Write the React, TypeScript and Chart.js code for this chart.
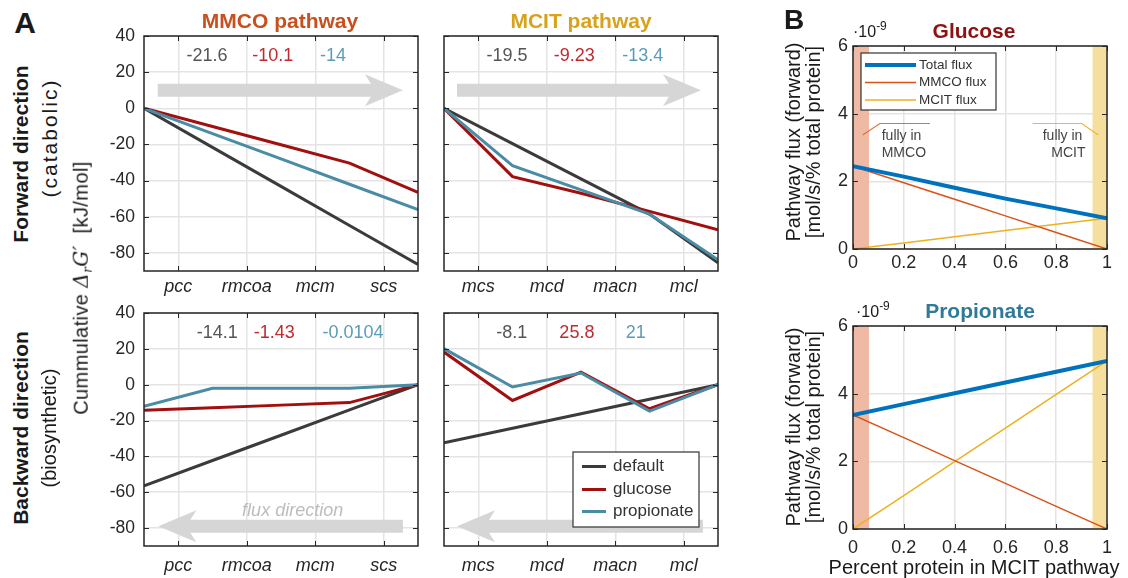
import React, { useEffect, useRef } from 'react';
import { Chart, registerables } from 'chart.js';

Chart.register(...registerables);

const SANS = '"Liberation Sans", Arial, Helvetica, sans-serif';

// ---------------- Panel A data (cumulative ΔrG', kJ/mol) ----------------
const mmcoSteps = ['pcc', 'rmcoa', 'mcm', 'scs'];
const mcitSteps = ['mcs', 'mcd', 'macn', 'mcl'];
const nodeX = [0, 1, 2, 3, 4];
const stepTickX = [0.5, 1.5, 2.5, 3.5];
const dgTicks = [-80, -60, -40, -20, 0, 20, 40];
const seriesNames = ['default', 'glucose', 'propionate'];

const fwdMmcoDefault = [0, -21.6, -43.2, -64.8, -86.4];
const fwdMmcoGlucose = [0, -10.1, -20.2, -30.3, -46.5];
const fwdMmcoPropionate = [0, -14, -28, -42, -56];

const fwdMcitDefault = [0, -19.5, -39, -58.5, -85.5];
const fwdMcitGlucose = [0, -37.8, -47, -57, -67.2];
const fwdMcitPropionate = [0, -31.7, -45.1, -58.5, -83.8];

const bwdMmcoDefault = [-56.4, -42.3, -28.2, -14.1, 0];
const bwdMmcoGlucose = [-14.3, -12.9, -11.4, -10, 0];
const bwdMmcoPropionate = [-12, -2, -2, -2, 0];

const bwdMcitDefault = [-32.4, -24.3, -16.2, -8.1, 0];
const bwdMcitGlucose = [18.2, -8.8, 7, -13.4, 0];
const bwdMcitPropionate = [20.1, -1.3, 6.5, -14.7, 0];

const fwdMmcoLabels = ['-21.6', '-10.1', '-14'];
const fwdMcitLabels = ['-19.5', '-9.23', '-13.4'];
const bwdMmcoLabels = ['-14.1', '-1.43', '-0.0104'];
const bwdMcitLabels = ['-8.1', '25.8', '21'];

// ---------------- Panel B data (flux, ×1e-9 mol/s/% total protein) ----------------
const fracMcit = [0, 0.2, 0.4, 0.6, 0.8, 1];
const fluxNames = ['Total flux', 'MMCO flux', 'MCIT flux'];
const glcTotal = [2.45, 2.14, 1.81, 1.49, 1.2, 0.91];
const glcMmco = [2.45, 1.96, 1.47, 0.98, 0.49, 0];
const glcMcit = [0, 0.18, 0.36, 0.55, 0.73, 0.91];
const proTotal = [3.37, 3.69, 4.01, 4.33, 4.65, 4.97];
const proMmco = [3.37, 2.7, 2.02, 1.35, 0.67, 0];
const proMcit = [0, 0.99, 1.99, 2.98, 3.98, 4.97];

// ---------------- styling ----------------
const lineColors = ['#3b3b3b', '#a10f0f', '#4a8ba6'];
const labelColors = ['#555555', '#c02a2e', '#5b9cb9'];
const fluxColors = ['#0072bd', '#d95319', '#edb120'];
const fluxWidths = [4, 1.5, 1.5];
const GRID = '#e4e4e4';
const AXIS = '#262626';

type Txt = { x: number; y: number; text: string; color: string; font: string; align?: CanvasTextAlign };
type Arrow = { from: number; to: number; y: number; head: number; half: number; shaft: number; color: string };
type Poly = { pts: [number, number][]; color: string; width: number };
type Legend = { dx: number; dy: number; w: number; h: number; font: string; s0: number; s1: number; tx: number; rows: number[] };
type Spec = {
  bands?: { from: number; to: number; color: string }[];
  arrows?: Arrow[];
  texts?: Txt[];
  polys?: Poly[];
  legend?: Legend;
};

function makeDecor(spec: Spec) {
  return {
    id: 'decor',
    beforeDatasetsDraw(chart: any) {
      const { ctx, chartArea: a, scales } = chart;
      const xs = scales.x;
      const ys = scales.y;
      ctx.save();
      (spec.bands || []).forEach((b) => {
        const x0 = xs.getPixelForValue(b.from);
        const x1 = xs.getPixelForValue(b.to);
        ctx.fillStyle = b.color;
        ctx.fillRect(x0, a.top, x1 - x0, a.bottom - a.top);
      });
      (spec.arrows || []).forEach((ar) => {
        const tail = xs.getPixelForValue(ar.from);
        const tip = xs.getPixelForValue(ar.to);
        const y = ys.getPixelForValue(ar.y);
        const dir = Math.sign(tip - tail);
        const base = tip - dir * ar.head;
        const join = base + dir * 6;
        ctx.fillStyle = ar.color;
        ctx.beginPath();
        ctx.moveTo(tail, y - ar.shaft);
        ctx.lineTo(join, y - ar.shaft);
        ctx.lineTo(base, y - ar.half);
        ctx.lineTo(tip, y);
        ctx.lineTo(base, y + ar.half);
        ctx.lineTo(join, y + ar.shaft);
        ctx.lineTo(tail, y + ar.shaft);
        ctx.closePath();
        ctx.fill();
      });
      (spec.polys || []).forEach((p) => {
        ctx.strokeStyle = p.color;
        ctx.lineWidth = p.width;
        ctx.beginPath();
        p.pts.forEach(([vx, vy], i) => {
          const px = xs.getPixelForValue(vx);
          const py = ys.getPixelForValue(vy);
          if (i === 0) ctx.moveTo(px, py);
          else ctx.lineTo(px, py);
        });
        ctx.stroke();
      });
      (spec.texts || []).forEach((t) => {
        ctx.font = t.font;
        ctx.fillStyle = t.color;
        ctx.textAlign = t.align || 'center';
        ctx.textBaseline = 'middle';
        ctx.fillText(t.text, xs.getPixelForValue(t.x), ys.getPixelForValue(t.y));
      });
      ctx.restore();
    },
    afterDatasetsDraw(chart: any) {
      const { ctx, chartArea: a, scales } = chart;
      const xs = scales.x;
      const ys = scales.y;
      ctx.save();
      // inward tick marks
      ctx.strokeStyle = AXIS;
      ctx.lineWidth = 1;
      ctx.beginPath();
      ys.ticks.forEach((t: any) => {
        const py = Math.round(ys.getPixelForValue(t.value)) + 0.5;
        ctx.moveTo(a.left, py);
        ctx.lineTo(a.left + 5, py);
        ctx.moveTo(a.right - 5, py);
        ctx.lineTo(a.right, py);
      });
      xs.ticks.forEach((t: any) => {
        const px = Math.round(xs.getPixelForValue(t.value)) + 0.5;
        ctx.moveTo(px, a.bottom);
        ctx.lineTo(px, a.bottom - 5);
        ctx.moveTo(px, a.top);
        ctx.lineTo(px, a.top + 5);
      });
      ctx.stroke();
      // box
      ctx.lineWidth = 1.5;
      ctx.strokeRect(a.left, a.top, a.right - a.left, a.bottom - a.top);
      // legend
      const lg = spec.legend;
      if (lg) {
        const bx = a.left + lg.dx;
        const by = a.top + lg.dy;
        ctx.fillStyle = '#ffffff';
        ctx.fillRect(bx, by, lg.w, lg.h);
        ctx.strokeStyle = '#333333';
        ctx.lineWidth = 1.2;
        ctx.strokeRect(bx, by, lg.w, lg.h);
        chart.data.datasets.forEach((ds: any, i: number) => {
          const ry = by + lg.rows[i];
          ctx.strokeStyle = ds.borderColor;
          ctx.lineWidth = ds.borderWidth;
          ctx.beginPath();
          ctx.moveTo(bx + lg.s0, ry);
          ctx.lineTo(bx + lg.s1, ry);
          ctx.stroke();
          ctx.fillStyle = '#333333';
          ctx.font = lg.font;
          ctx.textAlign = 'left';
          ctx.textBaseline = 'middle';
          ctx.fillText(ds.label, bx + lg.tx, ry);
        });
      }
      ctx.restore();
    },
  };
}

type BoxT = { left: number; top: number; width: number; height: number };

function ChartBox({ box, make }: { box: BoxT; make: () => any }) {
  const ref = useRef<HTMLCanvasElement>(null);
  useEffect(() => {
    const chart = new Chart(ref.current as HTMLCanvasElement, make());
    return () => chart.destroy();
  }, []);
  return (
    <canvas
      ref={ref}
      width={box.width}
      height={box.height}
      style={{ position: 'absolute', left: box.left, top: box.top, width: box.width, height: box.height }}
    />
  );
}

const fixX = (h: number) => (s: any) => {
  s.height = h;
  s.paddingLeft = 0;
  s.paddingRight = 0;
  s.paddingTop = 0;
  s.paddingBottom = 0;
};
const fixY = (w: number) => (s: any) => {
  s.width = w;
  s.paddingLeft = 0;
  s.paddingRight = 0;
  s.paddingTop = 0;
  s.paddingBottom = 0;
};

function panelA(opts: {
  steps: string[];
  series: number[][];
  labels: string[];
  labelX: number[];
  showY: boolean;
  yW: number;
  xH: number;
  xPad: number;
  arrowFrom: number;
  arrowTo: number;
  arrowY: number;
  fluxText?: boolean;
  legend?: boolean;
}) {
  const texts: Txt[] = opts.labels.map((t, k) => ({
    x: opts.labelX[k],
    y: 29,
    text: t,
    color: labelColors[k],
    font: `18px ${SANS}`,
  }));
  if (opts.fluxText) {
    texts.push({ x: 2.17, y: -70.6, text: 'flux direction', color: '#bdbdbd', font: `italic 18px ${SANS}` });
  }
  const spec: Spec = {
    arrows: [
      { from: opts.arrowFrom, to: opts.arrowTo, y: opts.arrowY, head: 38, half: 16, shaft: 6.5, color: '#d6d6d6' },
    ],
    texts,
    legend: opts.legend
      ? { dx: 129, dy: 139, w: 126, h: 75, font: `17px ${SANS}`, s0: 9, s1: 33, tx: 40, rows: [14.5, 37.5, 59.5] }
      : undefined,
  };
  return {
    type: 'line',
    data: {
      datasets: opts.series.map((s, k) => ({
        label: seriesNames[k],
        data: nodeX.map((x, i) => ({ x, y: s[i] })),
        borderColor: lineColors[k],
        backgroundColor: lineColors[k],
        borderWidth: 3,
        pointRadius: 0,
        tension: 0,
        fill: false,
        order: 3 - k,
      })),
    },
    options: {
      animation: false,
      responsive: false,
      devicePixelRatio: 1,
      layout: { padding: { top: 10, right: 12, left: 0, bottom: 0 } },
      plugins: { legend: { display: false }, tooltip: { enabled: false } },
      scales: {
        x: {
          type: 'linear',
          min: 0,
          max: 4,
          afterBuildTicks: (s: any) => {
            s.ticks = stepTickX.map((v) => ({ value: v }));
          },
          afterFit: fixX(opts.xH),
          ticks: {
            autoSkip: false,
            maxRotation: 0,
            padding: opts.xPad,
            color: AXIS,
            font: { family: SANS, size: 18, style: 'italic' },
            callback: (_v: any, i: number) => opts.steps[i],
          },
          grid: { color: GRID, lineWidth: 1.5, drawTicks: false },
          border: { display: false },
        },
        y: {
          type: 'linear',
          min: -90,
          max: 40,
          afterBuildTicks: (s: any) => {
            s.ticks = dgTicks.map((v) => ({ value: v }));
          },
          afterFit: fixY(opts.yW),
          ticks: {
            display: opts.showY,
            padding: 9,
            color: AXIS,
            font: { family: SANS, size: 17.5 },
          },
          grid: { color: GRID, lineWidth: 1.5, drawTicks: false },
          border: { display: false },
        },
      },
    },
    plugins: [makeDecor(spec)],
  };
}

function panelB(opts: { series: number[][]; xH: number; xPad: number; notes?: boolean }) {
  const spec: Spec = {
    bands: [
      { from: 0, to: 0.063, color: '#f0b9a3' },
      { from: 0.943, to: 1, color: '#f6de9f' },
    ],
  };
  if (opts.notes) {
    spec.polys = [
      { pts: [[0.038, 3.37], [0.106, 3.71], [0.303, 3.71]], color: '#e0703f', width: 1.2 },
      { pts: [[0.707, 3.71], [0.9, 3.71], [0.966, 3.37]], color: '#efb835', width: 1.2 },
    ];
    const f = `14px ${SANS}`;
    spec.texts = [
      { x: 0.113, y: 3.33, text: 'fully in', color: '#444', font: f, align: 'left' },
      { x: 0.113, y: 2.83, text: 'MMCO', color: '#444', font: f, align: 'left' },
      { x: 0.825, y: 3.33, text: 'fully in', color: '#444', font: f, align: 'center' },
      { x: 0.848, y: 2.83, text: 'MCIT', color: '#444', font: f, align: 'center' },
    ];
    spec.legend = { dx: 8, dy: 7, w: 135, h: 57, font: `13.5px ${SANS}`, s0: 4, s1: 55, tx: 58, rows: [12, 29.5, 47] };
  }
  return {
    type: 'line',
    data: {
      datasets: opts.series.map((s, k) => ({
        label: fluxNames[k],
        data: fracMcit.map((x, i) => ({ x, y: s[i] })),
        borderColor: fluxColors[k],
        backgroundColor: fluxColors[k],
        borderWidth: fluxWidths[k],
        pointRadius: 0,
        tension: 0,
        fill: false,
        order: k + 1,
      })),
    },
    options: {
      animation: false,
      responsive: false,
      devicePixelRatio: 1,
      layout: { padding: { top: 10, right: 12, left: 0, bottom: 0 } },
      plugins: { legend: { display: false }, tooltip: { enabled: false } },
      scales: {
        x: {
          type: 'linear',
          min: 0,
          max: 1,
          afterFit: fixX(opts.xH),
          ticks: {
            stepSize: 0.2,
            padding: opts.xPad,
            color: AXIS,
            font: { family: SANS, size: 18 },
            maxRotation: 0,
            callback: (v: any) => String(Math.round(Number(v) * 10) / 10),
          },
          grid: { color: GRID, lineWidth: 1.5, drawTicks: false },
          border: { display: false },
        },
        y: {
          type: 'linear',
          min: 0,
          max: 6,
          afterFit: fixY(60),
          ticks: { stepSize: 2, padding: 5, color: AXIS, font: { family: SANS, size: 18 } },
          grid: { color: GRID, lineWidth: 1.5, drawTicks: false },
          border: { display: false },
        },
      },
    },
    plugins: [makeDecor(spec)],
  };
}

const Rot = ({ cx, cy, style, children }: any) => (
  <div
    style={{
      position: 'absolute',
      left: cx,
      top: cy,
      transform: 'translate(-50%, -50%) rotate(-90deg)',
      whiteSpace: 'nowrap',
      lineHeight: 1,
      ...style,
    }}
  >
    {children}
  </div>
);

const Ctr = ({ cx, cy, style, children }: any) => (
  <div
    style={{
      position: 'absolute',
      left: cx,
      top: cy,
      transform: 'translate(-50%, -50%)',
      whiteSpace: 'nowrap',
      lineHeight: 1,
      ...style,
    }}
  >
    {children}
  </div>
);

export default function App() {
  return (
    <div
      style={{
        position: 'absolute',
        left: 0,
        top: 0,
        width: 1128,
        height: 578,
        background: '#ffffff',
        fontFamily: SANS,
        color: '#1a1a1a',
        overflow: 'hidden',
      }}
    >
      <ChartBox
        box={{ left: 80, top: 26, width: 350, height: 280 }}
        make={() =>
          panelA({
            steps: mmcoSteps,
            series: [fwdMmcoDefault, fwdMmcoGlucose, fwdMmcoPropionate],
            labels: fwdMmcoLabels,
            labelX: [0.92, 1.88, 2.76],
            showY: true,
            yW: 64,
            xH: 35,
            xPad: 5,
            arrowFrom: 0.2,
            arrowTo: 3.78,
            arrowY: 10,
          })
        }
      />
      <ChartBox
        box={{ left: 434, top: 26, width: 296, height: 280 }}
        make={() =>
          panelA({
            steps: mcitSteps,
            series: [fwdMcitDefault, fwdMcitGlucose, fwdMcitPropionate],
            labels: fwdMcitLabels,
            labelX: [0.92, 1.9, 2.9],
            showY: false,
            yW: 10,
            xH: 35,
            xPad: 5,
            arrowFrom: 0.19,
            arrowTo: 3.75,
            arrowY: 10,
          })
        }
      />
      <ChartBox
        box={{ left: 80, top: 303, width: 350, height: 275 }}
        make={() =>
          panelA({
            steps: mmcoSteps,
            series: [bwdMmcoDefault, bwdMmcoGlucose, bwdMmcoPropionate],
            labels: bwdMmcoLabels,
            labelX: [1.07, 1.9, 3.05],
            showY: true,
            yW: 64,
            xH: 32,
            xPad: 9,
            arrowFrom: 3.78,
            arrowTo: 0.21,
            arrowY: -79,
            fluxText: true,
          })
        }
      />
      <ChartBox
        box={{ left: 434, top: 303, width: 296, height: 275 }}
        make={() =>
          panelA({
            steps: mcitSteps,
            series: [bwdMcitDefault, bwdMcitGlucose, bwdMcitPropionate],
            labels: bwdMcitLabels,
            labelX: [0.99, 1.94, 2.8],
            showY: false,
            yW: 10,
            xH: 32,
            xPad: 9,
            arrowFrom: 3.78,
            arrowTo: 0.19,
            arrowY: -79,
            legend: true,
          })
        }
      />
      <ChartBox
        box={{ left: 793, top: 36, width: 326, height: 250 }}
        make={() => panelB({ series: [glcTotal, glcMmco, glcMcit], xH: 37, xPad: 3, notes: true })}
      />
      <ChartBox
        box={{ left: 793, top: 316, width: 326, height: 245 }}
        make={() => panelB({ series: [proTotal, proMmco, proMcit], xH: 32, xPad: 8 })}
      />

      {/* Panel A labels */}
      <Ctr cx={25} cy={22.5} style={{ fontSize: 30, fontWeight: 700 }}>A</Ctr>
      <Ctr cx={280} cy={20} style={{ fontSize: 21, fontWeight: 700, color: '#c8501e' }}>MMCO pathway</Ctr>
      <Ctr cx={581} cy={20} style={{ fontSize: 21, fontWeight: 700, color: '#d9a21b' }}>MCIT pathway</Ctr>
      <Rot cx={20} cy={154} style={{ fontSize: 21, fontWeight: 700 }}>Forward direction</Rot>
      <Rot cx={49} cy={138} style={{ fontSize: 21, letterSpacing: 2 }}>(catabolic)</Rot>
      <Rot cx={20} cy={428} style={{ fontSize: 21, fontWeight: 700 }}>Backward direction</Rot>
      <Rot cx={49} cy={428} style={{ fontSize: 20 }}>(biosynthetic)</Rot>
      <Rot cx={82} cy={288} style={{ fontSize: 20, letterSpacing: 0.4 }}>
        Cummulative{' '}
        <span style={{ fontFamily: '"DejaVu Serif", "Liberation Serif", serif', fontStyle: 'italic' }}>
          Δ<sub style={{ fontSize: '0.6em', verticalAlign: '-0.3em' }}>r</sub>G′
        </span>
        {'  '}
        <span style={{ marginLeft: 6 }}>[kJ/mol]</span>
      </Rot>

      {/* Panel B labels */}
      <Ctr cx={794} cy={20} style={{ fontSize: 28, fontWeight: 700 }}>B</Ctr>
      <Ctr cx={974} cy={30} style={{ fontSize: 21, fontWeight: 700, color: '#8e1212' }}>Glucose</Ctr>
      <Ctr cx={980} cy={310} style={{ fontSize: 21, fontWeight: 700, color: '#2f7a99' }}>Propionate</Ctr>
      <div style={{ position: 'absolute', left: 853, top: 24, fontSize: 16, lineHeight: 1, whiteSpace: 'nowrap' }}>
        ·10<span style={{ position: 'relative', top: -7, fontSize: 12 }}>-9</span>
      </div>
      <div style={{ position: 'absolute', left: 856, top: 304, fontSize: 16, lineHeight: 1, whiteSpace: 'nowrap' }}>
        ·10<span style={{ position: 'relative', top: -7, fontSize: 12 }}>-9</span>
      </div>
      <Rot cx={802.5} cy={142} style={{ fontSize: 20, lineHeight: '20px', textAlign: 'center' }}>
        Pathway flux (forward)
        <br />
        [mol/s/% total protein]
      </Rot>
      <Rot cx={802.5} cy={427} style={{ fontSize: 20, lineHeight: '20px', textAlign: 'center' }}>
        Pathway flux (forward)
        <br />
        [mol/s/% total protein]
      </Rot>
      <Ctr cx={974} cy={567} style={{ fontSize: 20 }}>Percent protein in MCIT pathway</Ctr>
    </div>
  );
}
